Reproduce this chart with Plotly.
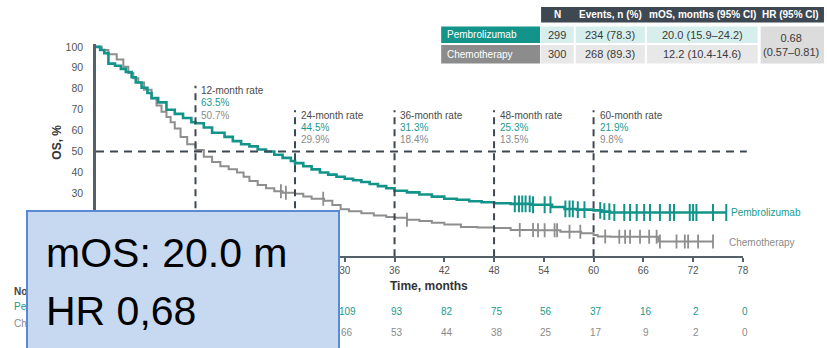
import numpy as np
import plotly.graph_objects as go

W, H = 827, 348

# Kaplan-Meier step points: months, % alive
pem_t = [0, 0.5, 1.0, 1.5, 2.3, 3.0, 3.6, 4.3, 4.8, 5.5, 6.2, 6.7, 7.5, 8.5, 9.5, 10.5, 11.5,
         12, 13, 14, 15.5, 16.5, 17.5, 18.5, 19.5, 20.5, 21.5, 22.5, 23.5, 24, 25, 26, 27,
         28, 29, 30, 31, 32, 33, 34, 35, 36, 37.5, 39, 40.5, 42, 43.5, 45, 46.5, 48, 50,
         52.5, 55, 56.5, 58, 60, 61, 62, 76]
pem_s = [100, 98.5, 97, 92, 91, 89.5, 88, 85.5, 83, 80.5, 78, 75.5, 73.5, 70, 68, 66, 64,
         63.5, 61.5, 59, 57, 55, 53.5, 52.5, 51, 50, 48.5, 47, 45.5, 44.5, 43, 41.5, 40,
         39, 38, 37, 36.3, 35.5, 34.5, 33.5, 32.5, 31.3, 30.5, 29.5, 28.5, 27.5, 27, 26.3,
         25.8, 25.3, 25.0, 24.6, 23.5, 22.6, 22.3, 21.9, 21.3, 20.9, 20.9]

chemo_t = [0, 0.7, 1.5, 2.5, 3.3, 3.9, 4.5, 5.1, 5.8, 6.7, 7.3, 7.9, 8.5, 9.0, 9.5, 10.2,
           11.0, 12, 13, 14, 15, 16, 17, 17.8, 18.5, 19.5, 20.5, 21.5, 22.5, 24, 25, 26,
           27.5, 28.5, 29.5, 30.5, 32, 33.5, 35, 36, 37.5, 39, 40.5, 42, 44, 46, 48, 50, 53,
           56, 58.5, 60, 60.5, 62, 67.8, 74.4]
chemo_s = [100, 98.5, 96.5, 94, 90.5, 87.5, 85, 83, 79.5, 75.5, 72, 69, 66.5, 64, 61, 57,
           53.5, 50.7, 47.5, 45, 43, 41.5, 40, 38, 36, 34, 32.5, 31, 30.3, 29.9, 28.5, 27.5,
           26.5, 24.5, 22.5, 21.5, 20.5, 19.5, 18.8, 18.4, 17.5, 16.8, 16, 15.2, 14, 13.8,
           13.5, 12.6, 12.4, 11.7, 11.0, 10.2, 9.5, 9.3, 7.0, 7.0]

# censoring times, months
pem_cens = [24.0, 50.5, 51.0, 51.4, 51.8, 52.3, 52.7, 54.1, 54.8, 56.6, 57.1, 57.5, 58.1,
            58.9, 60.8, 61.3, 61.9, 62.5, 63.7, 64.4, 65.2, 66.1, 66.8, 68.0, 69.2, 69.7,
            71.6, 72.0, 72.4, 74.4, 76.0]
chemo_cens = [22.3, 22.9, 27.4, 37.5, 51.1, 52.7, 53.3, 54.1, 55.3, 55.6, 57.1, 58.4, 61.4,
              63.1, 63.8, 64.4, 65.6, 66.7, 67.6, 68.0, 70.0, 71.0, 71.4, 72.6, 74.4]

risk_months = [0, 6, 12, 18, 24, 30, 36, 42, 48, 54, 60, 66, 72, 78]
pem_risk = [299, 263, 190, 157, 134, 109, 93, 82, 75, 56, 37, 16, 2, 0]
chemo_risk = [300, 256, 151, 105, 89, 66, 53, 44, 38, 25, 17, 9, 2, 0]

landmarks = [12, 24, 36, 48, 60]
pem_rates = ["63.5%", "44.5%", "31.3%", "25.3%", "21.9%"]
chemo_rates = ["50.7%", "29.9%", "18.4%", "13.5%", "9.8%"]

x_ticks = [0, 6, 12, 18, 24, 30, 36, 42, 48, 54, 60, 66, 72, 78]
y_ticks = [0, 10, 20, 30, 40, 50, 60, 70, 80, 90, 100]

table_header = ["N", "Events, n (%)", "mOS, months (95% CI)", "HR (95% CI)"]
arms = ["Pembrolizumab", "Chemotherapy"]
arm_n = ["299", "300"]
arm_events = ["234 (78.3)", "268 (89.3)"]
arm_mos = ["20.0 (15.9–24.2)", "12.2 (10.4-14.6)"]
hr_lines = ["0.68", "(0.57–0.81)"]

TEAL = "#13948a"
GRAY = "#8e8e8e"
DARK = "#3e4852"
TEAL_TXT = "#1a9a8c"
GRAY_TXT = "#8a8a8a"
FONT = "Liberation Sans, Arial, sans-serif"

# pixel geometry of the plot area
X0, X1 = 94, 748
Y_ZERO, Y_TOP = 260, 41.8
Y_MAX = 101.5


def px(x):
    return x / W


def py(y):
    return 1 - y / H


def mx(m):
    return X0 + m * (X1 - X0) / 78


def step_at(t, s, q):
    t = np.asarray(t)
    s = np.asarray(s)
    idx = np.searchsorted(t, np.asarray(q), side="right") - 1
    return s[idx]


fig = go.Figure()
fig.add_trace(go.Scatter(x=chemo_t, y=chemo_s, mode="lines",
                         line=dict(color=GRAY, width=2, shape="hv"), hoverinfo="skip"))
fig.add_trace(go.Scatter(x=pem_t, y=pem_s, mode="lines",
                         line=dict(color=TEAL, width=2.6, shape="hv"), hoverinfo="skip"))
fig.add_trace(go.Scatter(x=chemo_cens, y=step_at(chemo_t, chemo_s, chemo_cens), mode="markers",
                         marker=dict(symbol="line-ns", size=10, line=dict(color=GRAY, width=1.8)),
                         hoverinfo="skip"))
fig.add_trace(go.Scatter(x=pem_cens, y=step_at(pem_t, pem_s, pem_cens), mode="markers",
                         marker=dict(symbol="line-ns", size=12, line=dict(color=TEAL, width=2)),
                         hoverinfo="skip"))

shapes = []
ann = []

# 50% reference line
shapes.append(dict(type="line", xref="paper", yref="y", x0=px(X0), x1=px(752), y0=50, y1=50,
                   line=dict(color=DARK, width=2, dash="8px,6px")))

# landmark lines and rate labels
for i, m in enumerate(landmarks):
    top = 85 if m == 12 else 110
    shapes.append(dict(type="line", xref="x", yref="paper", x0=m, x1=m,
                       y0=py(Y_ZERO), y1=py(top),
                       line=dict(color=DARK, width=2, dash="7px,5px")))
    xl = px(mx(m) + 4)
    for j, (txt, col) in enumerate([(f"{m}-month rate", "#4a4a4a"),
                                    (pem_rates[i], TEAL_TXT),
                                    (chemo_rates[i], GRAY_TXT)]):
        ann.append(dict(x=xl, y=py(top + 5 + 12.5 * j), xref="paper", yref="paper",
                        text=txt, showarrow=False, xanchor="left", yanchor="middle",
                        font=dict(family=FONT, size=10, color=col)))

# curve labels
ann.append(dict(x=px(734), y=py(215), xref="paper", yref="paper", text="Pembrolizumab",
                showarrow=False, xanchor="left", yanchor="middle",
                font=dict(family=FONT, size=10, color=TEAL_TXT)))
ann.append(dict(x=px(732), y=py(246), xref="paper", yref="paper", text="Chemotherapy",
                showarrow=False, xanchor="left", yanchor="middle",
                font=dict(family=FONT, size=10, color=GRAY_TXT)))

# axis titles
ann.append(dict(x=px(431), y=py(291), xref="paper", yref="paper", text="<b>Time, months</b>",
                showarrow=False, xanchor="center", yanchor="middle",
                font=dict(family=FONT, size=12, color="#333333")))
ann.append(dict(x=px(55), y=py(143), xref="paper", yref="paper", text="<b>OS, %</b>",
                showarrow=False, xanchor="center", yanchor="middle", textangle=-90,
                font=dict(family=FONT, size=12, color="#333333")))

# number at risk
ann.append(dict(x=px(9), y=py(296), xref="paper", yref="paper", text="<b>No. at risk</b>",
                showarrow=False, xanchor="left", yanchor="middle",
                font=dict(family=FONT, size=10, color="#444444")))
ann.append(dict(x=px(9), y=py(312), xref="paper", yref="paper", text="Pembrolizumab",
                showarrow=False, xanchor="left", yanchor="middle",
                font=dict(family=FONT, size=10, color=TEAL_TXT)))
ann.append(dict(x=px(9), y=py(329), xref="paper", yref="paper", text="Chemotherapy",
                showarrow=False, xanchor="left", yanchor="middle",
                font=dict(family=FONT, size=10, color=GRAY_TXT)))
for m, a, b in zip(risk_months, pem_risk, chemo_risk):
    ann.append(dict(x=m, y=py(317), xref="x", yref="paper", text=str(a), showarrow=False,
                    xanchor="center", yanchor="middle", xshift=2.5,
                    font=dict(family=FONT, size=10, color=TEAL_TXT)))
    ann.append(dict(x=m, y=py(338), xref="x", yref="paper", text=str(b), showarrow=False,
                    xanchor="center", yanchor="middle", xshift=2.5,
                    font=dict(family=FONT, size=10, color=GRAY_TXT)))

# summary table
cols = [(544, 577), (579, 649), (651, 763), (766, 830)]
shapes.append(dict(type="rect", xref="paper", yref="paper", x0=px(cols[0][0]), x1=px(cols[3][1]),
                   y0=py(20), y1=py(4), fillcolor=DARK, line=dict(width=0), layer="above"))
for (c0, c1), txt in zip(cols, table_header):
    ann.append(dict(x=px((c0 + min(c1, 827)) / 2), y=py(12), xref="paper", yref="paper",
                    text=f"<b>{txt}</b>", showarrow=False, xanchor="center", yanchor="middle",
                    font=dict(family=FONT, size=10, color="white")))
rows = [(24, 41), (43, 62)]
label_bg = [TEAL, "#8c8c8c"]
cell_bg = ["#d6efec", "#e8e8e8"]
for r, (r0, r1) in enumerate(rows):
    shapes.append(dict(type="rect", xref="paper", yref="paper", x0=px(443), x1=px(543),
                       y0=py(r1), y1=py(r0), fillcolor=label_bg[r], line=dict(width=0),
                       layer="above"))
    ann.append(dict(x=px(447), y=py((r0 + r1) / 2), xref="paper", yref="paper", text=arms[r],
                    showarrow=False, xanchor="left", yanchor="middle",
                    font=dict(family=FONT, size=10, color="white")))
    for (c0, c1), txt in zip(cols[:3], [arm_n[r], arm_events[r], arm_mos[r]]):
        shapes.append(dict(type="rect", xref="paper", yref="paper", x0=px(c0), x1=px(c1),
                           y0=py(r1), y1=py(r0), fillcolor=cell_bg[r], line=dict(width=0),
                           layer="above"))
        ann.append(dict(x=px((c0 + c1) / 2), y=py((r0 + r1) / 2), xref="paper", yref="paper",
                        text=txt, showarrow=False, xanchor="center", yanchor="middle",
                        font=dict(family=FONT, size=11, color="#3a3a3a")))
shapes.append(dict(type="rect", xref="paper", yref="paper", x0=px(766), x1=px(830),
                   y0=py(62), y1=py(24), fillcolor="#dcdcdc", line=dict(width=0), layer="above"))
ann.append(dict(x=px(797), y=py(43), xref="paper", yref="paper", text="<br>".join(hr_lines),
                showarrow=False, xanchor="center", yanchor="middle",
                font=dict(family=FONT, size=11, color="#3a3a3a")))

# highlighted summary box, drawn last so it sits on top
ann.append(dict(x=px(23), y=py(213), xref="paper", yref="paper", text=" ", showarrow=False,
                xanchor="left", yanchor="top", width=310, height=170,
                bgcolor="#c6d9f1", bordercolor="#5a8ad6", borderwidth=2, borderpad=0))
ann.append(dict(x=px(41), y=py(257), xref="paper", yref="paper", text="mOS: 20.0 m",
                showarrow=False, xanchor="left", yanchor="middle",
                font=dict(family="Liberation Sans, Arial", size=41, color="black")))
ann.append(dict(x=px(41), y=py(316), xref="paper", yref="paper", text="HR 0,68",
                showarrow=False, xanchor="left", yanchor="middle",
                font=dict(family="Liberation Sans, Arial", size=41, color="black")))

fig.update_layout(
    width=W, height=H, margin=dict(l=0, r=0, t=0, b=0),
    paper_bgcolor="white", plot_bgcolor="white", showlegend=False,
    shapes=shapes, annotations=ann,
    xaxis=dict(domain=[px(X0), px(X1)], range=[0, 78], tickvals=x_ticks,
               showgrid=False, zeroline=False, showline=True, linecolor="#55606a", linewidth=2,
               ticks="outside", ticklen=4, tickwidth=2, tickcolor="#55606a",
               tickfont=dict(family=FONT, size=10, color="#555555")),
    yaxis=dict(domain=[py(Y_ZERO), py(Y_TOP)], range=[0, Y_MAX], tickvals=y_ticks,
               showgrid=False, zeroline=False, showline=True, linecolor="#55606a", linewidth=2.5,
               ticks="outside", ticklen=8, tickcolor="rgba(0,0,0,0)",
               tickfont=dict(family=FONT, size=10.5, color="#555555")),
)

fig.write_html("out.html")
